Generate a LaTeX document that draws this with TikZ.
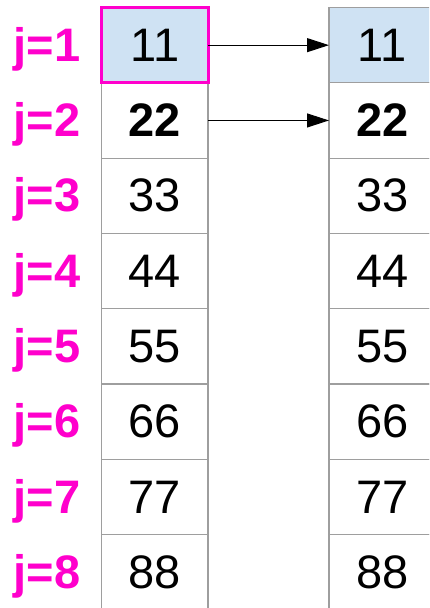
\documentclass[tikz,border=0pt]{standalone}
\usepackage{fontspec}
\setmainfont{Liberation Sans}
\usetikzlibrary{arrows.meta}
\definecolor{pinkc}{HTML}{FF00CC}
\definecolor{cellblue}{HTML}{CFE2F3}
\definecolor{cellgrey}{HTML}{9E9E9E}
\tikzset{
  cell/.style={draw=cellgrey, line width=1.2pt, minimum width=106.5pt, minimum height=75.3pt, inner sep=0pt, outer sep=0pt, anchor=north west, font=\fontsize{47}{47}\selectfont},
  lbl/.style={text=pinkc, font=\fontsize{47}{47}\selectfont\bfseries, inner sep=0pt, anchor=base},
  arr/.style={line width=1pt, -{Triangle[length=22pt,width=14pt]}}
}
\begin{document}
\begin{tikzpicture}[x=1pt,y=-1pt]
\useasboundingbox (0,0) rectangle (429,608);
\clip (0,0) rectangle (429,608);
\foreach \i/\v in {1/11,2/22,3/33,4/44,5/55,6/66,7/77,8/88}{
  \pgfmathsetmacro{\yy}{7.5+75.3*(\i-1)}
  \ifnum\i=2
    \node[cell] (L\i) at (101.5,\yy) {\bfseries\v};
    \node[cell] (R\i) at (329,\yy) {\bfseries\v};
  \else
    \ifnum\i=1
      \node[cell, fill=cellblue] (L\i) at (101.5,\yy) {\v};
      \node[cell, fill=cellblue] (R\i) at (329,\yy) {\v};
    \else
      \node[cell] (L\i) at (101.5,\yy) {\v};
      \node[cell] (R\i) at (329,\yy) {\v};
    \fi
  \fi
  \path (L\i.base) ++(-107.75,0) node[lbl] (J\i) {j=\i};
}
\draw[pinkc, line width=3pt] (L1.north west) rectangle (L1.south east);
\draw[arr] (L1.east) -- (R1.west);
\draw[arr] (L2.east) -- (R2.west);
\end{tikzpicture}
\end{document}
